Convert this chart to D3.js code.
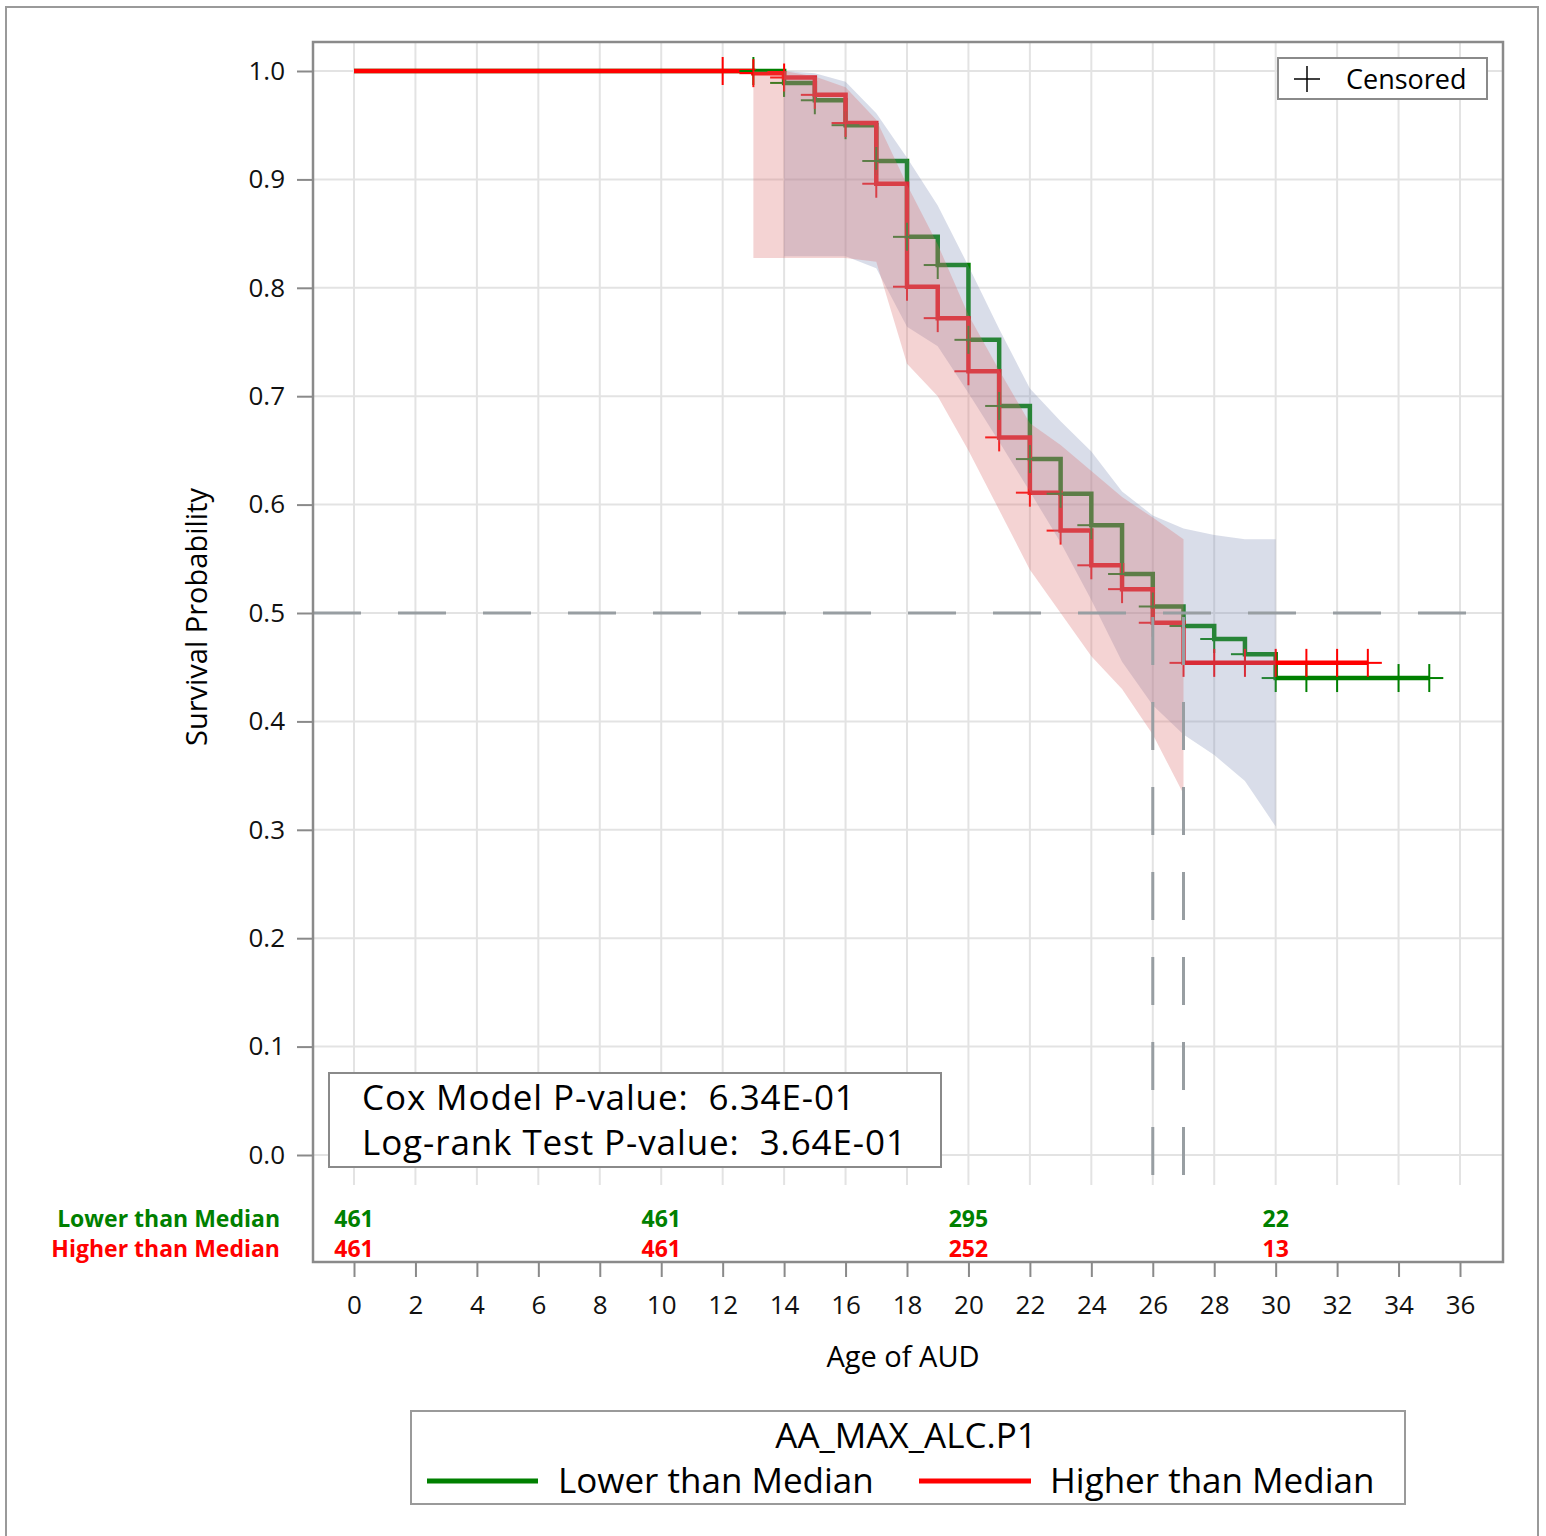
<!DOCTYPE html>
<html>
<head>
<meta charset="utf-8">
<script src="https://cdn.jsdelivr.net/npm/d3@7"></script>
<style>
  body { margin: 0; background: #fff; }
  svg { display: block; font-family: "Open Sans", "Noto Sans", sans-serif; }
  text { white-space: pre; }
</style>
</head>
<body>
<svg id="chart" width="1546" height="1536"></svg>
<script>
// Lower than Median (green) step curve
var lowTimes = [0, 14, 15, 16, 17, 18, 19, 20, 21, 22, 23, 24, 25, 26, 27, 28, 29, 30, 35];
var lowSurv  = [1.0, 0.989, 0.973, 0.950, 0.917, 0.847, 0.821, 0.752, 0.691, 0.642, 0.610, 0.581, 0.536, 0.506, 0.488, 0.476, 0.462, 0.440, 0.440];
// Higher than Median (red) step curve
var highTimes = [0, 13, 14, 15, 16, 17, 18, 19, 20, 21, 22, 23, 24, 25, 26, 27, 33];
var highSurv  = [1.0, 0.998, 0.994, 0.978, 0.952, 0.896, 0.801, 0.772, 0.723, 0.662, 0.611, 0.576, 0.544, 0.522, 0.491, 0.454, 0.454];

// censored times
var lowCens  = [13, 14, 15, 16, 17, 18, 19, 20, 21, 22, 23, 24, 25, 26, 27, 28, 29, 30, 31, 32, 34, 35];
var highCens = [12, 13, 14, 15, 16, 17, 18, 19, 20, 21, 22, 23, 24, 25, 26, 27, 28, 29, 30, 31, 32, 33];

// confidence bands
var lowBandT  = [14, 15, 16, 17, 18, 19, 20, 21, 22, 23, 24, 25, 26, 27, 28, 29, 30];
var lowUpper  = [1.0, 0.998, 0.99, 0.961, 0.92, 0.876, 0.82, 0.762, 0.707, 0.677, 0.649, 0.612, 0.59, 0.578, 0.572, 0.568, 0.568];
var lowLower  = [0.829, 0.829, 0.829, 0.818, 0.764, 0.746, 0.703, 0.658, 0.612, 0.565, 0.512, 0.455, 0.415, 0.388, 0.369, 0.345, 0.303];
var highBandT = [13, 14, 15, 16, 17, 18, 19, 20, 21, 22, 23, 24, 25, 26, 27];
var highUpper = [1.0, 1.0, 0.995, 0.985, 0.955, 0.895, 0.84, 0.775, 0.724, 0.675, 0.655, 0.631, 0.607, 0.588, 0.568];
var highLower = [0.8275, 0.8275, 0.8275, 0.8275, 0.824, 0.73, 0.70, 0.65, 0.595, 0.54, 0.50, 0.46, 0.43, 0.388, 0.333];

// medians
var medians = [26, 27];

// at-risk table
var riskTimes = [0, 10, 20, 30];
var riskLow   = [461, 461, 295, 22];
var riskHigh  = [461, 461, 252, 13];

var xTicks = d3.range(0, 37, 2);
var yTicks = d3.range(0, 1.01, 0.1);

var GREEN = "#008000", RED = "#ff0000";

var svg = d3.select("#chart");

// frame of plot
var L = 313, R = 1503, T = 42, B = 1262, plotBottom = 1185;

var x = d3.scaleLinear().domain([-41 / 30.722, 36 + 43 / 30.722]).range([L, R]);
var y = d3.scaleLinear().domain([0, 1]).range([1155, 71]);

// outer border
svg.append("rect").attr("x", 6).attr("y", 7).attr("width", 1532).attr("height", 1560)
  .attr("fill", "none").attr("stroke", "#9a9a9a").attr("stroke-width", 2);

// grid
svg.append("g").selectAll("line").data(xTicks).enter().append("line")
  .attr("x1", function(d){ return x(d); }).attr("x2", function(d){ return x(d); })
  .attr("y1", T).attr("y2", plotBottom)
  .attr("stroke", "#e3e3e3").attr("stroke-width", 2);
svg.append("g").selectAll("line").data(yTicks).enter().append("line")
  .attr("x1", L).attr("x2", R)
  .attr("y1", function(d){ return y(d); }).attr("y2", function(d){ return y(d); })
  .attr("stroke", "#e3e3e3").attr("stroke-width", 2);

// survival curves
var step = d3.line().curve(d3.curveStepAfter)
  .x(function(d){ return x(d[0]); }).y(function(d){ return y(d[1]); });

function survAt(times, surv, t) {
  var v = surv[0];
  for (var i = 0; i < times.length; i++) if (times[i] <= t) v = surv[i];
  return v;
}

svg.append("path").datum(d3.zip(lowTimes, lowSurv)).attr("d", step)
  .attr("fill", "none").attr("stroke", GREEN).attr("stroke-width", 4.5);
svg.append("path").datum(d3.zip(highTimes, highSurv)).attr("d", step)
  .attr("fill", "none").attr("stroke", RED).attr("stroke-width", 4.5);

// censored marks
function plus(g, times, surv, cens, color) {
  var sel = g.selectAll("g").data(cens).enter().append("g")
    .attr("transform", function(d){ return "translate(" + x(d) + "," + y(survAt(times, surv, d)) + ")"; });
  sel.append("line").attr("x1", -14).attr("x2", 14).attr("y1", 0).attr("y2", 0)
    .attr("stroke", color).attr("stroke-width", 2);
  sel.append("line").attr("x1", 0).attr("x2", 0).attr("y1", -14).attr("y2", 14)
    .attr("stroke", color).attr("stroke-width", 2);
}
plus(svg.append("g"), lowTimes, lowSurv, lowCens, GREEN);
plus(svg.append("g"), highTimes, highSurv, highCens, RED);

// bands
var band = d3.area()
  .x(function(d){ return x(d[0]); })
  .y0(function(d){ return y(d[2]); })
  .y1(function(d){ return y(d[1]); });
svg.append("path").datum(d3.zip(lowBandT, lowUpper, lowLower)).attr("d", band)
  .attr("fill", "rgb(128,142,182)").attr("fill-opacity", 0.3);
svg.append("path").datum(d3.zip(highBandT, highUpper, highLower)).attr("d", band)
  .attr("fill", "rgb(220,110,110)").attr("fill-opacity", 0.3);

// median reference lines
svg.append("line").attr("x1", L).attr("x2", R).attr("y1", y(0.5)).attr("y2", y(0.5))
  .attr("stroke", "#989ea2").attr("stroke-width", 3).attr("stroke-dasharray", "48,37");
svg.append("g").selectAll("line").data(medians).enter().append("line")
  .attr("x1", function(d){ return x(d); }).attr("x2", function(d){ return x(d); })
  .attr("y1", y(0.5) + 4).attr("y2", plotBottom)
  .attr("stroke", "#989ea2").attr("stroke-width", 3).attr("stroke-dasharray", "48,37");

// plot frame
svg.append("rect").attr("x", L).attr("y", T).attr("width", R - L).attr("height", B - T)
  .attr("fill", "none").attr("stroke", "#8a8a8a").attr("stroke-width", 2.5);

// y axis
var yAxis = svg.append("g").attr("transform", "translate(" + L + ",0)")
  .call(d3.axisLeft(y).tickValues(yTicks).tickFormat(d3.format(".1f")).tickSizeOuter(0).tickSize(16).tickPadding(12));
yAxis.select(".domain").remove();
yAxis.selectAll(".tick line").attr("stroke", "#8a8a8a").attr("stroke-width", 2);
yAxis.selectAll(".tick text").attr("font-size", 26).attr("fill", "#111")
  .attr("font-family", "Open Sans, sans-serif");

// x axis
var xAxis = svg.append("g").attr("transform", "translate(0," + B + ")")
  .call(d3.axisBottom(x).tickValues(xTicks).tickSizeOuter(0).tickSize(15).tickPadding(19));
xAxis.select(".domain").remove();
xAxis.selectAll(".tick line").attr("stroke", "#8a8a8a").attr("stroke-width", 2);
xAxis.selectAll(".tick text").attr("font-size", 26).attr("fill", "#111")
  .attr("font-family", "Open Sans, sans-serif");

// axis titles
svg.append("text").attr("transform", "translate(207,617) rotate(-90)")
  .attr("text-anchor", "middle").attr("font-size", 29).attr("fill", "#000")
  .text("Survival Probability");
svg.append("text").attr("x", 903).attr("y", 1367)
  .attr("text-anchor", "middle").attr("font-size", 29).attr("fill", "#000")
  .text("Age of AUD");

// at-risk table
svg.append("text").attr("x", 280).attr("y", 1227).attr("text-anchor", "end")
  .attr("font-size", 23).attr("font-weight", "bold").attr("fill", GREEN).text("Lower than Median");
svg.append("text").attr("x", 280).attr("y", 1257).attr("text-anchor", "end")
  .attr("font-size", 23).attr("font-weight", "bold").attr("fill", RED).text("Higher than Median");
svg.append("g").selectAll("text").data(d3.zip(riskTimes, riskLow)).enter().append("text")
  .attr("x", function(d){ return x(d[0]); }).attr("y", 1227).attr("text-anchor", "middle")
  .attr("font-size", 23).attr("font-weight", "bold").attr("fill", GREEN)
  .text(function(d){ return d[1]; });
svg.append("g").selectAll("text").data(d3.zip(riskTimes, riskHigh)).enter().append("text")
  .attr("x", function(d){ return x(d[0]); }).attr("y", 1257).attr("text-anchor", "middle")
  .attr("font-size", 23).attr("font-weight", "bold").attr("fill", RED)
  .text(function(d){ return d[1]; });

// p-value box
svg.append("rect").attr("x", 329).attr("y", 1073).attr("width", 612).attr("height", 94)
  .attr("fill", "#fff").attr("stroke", "#8a8a8a").attr("stroke-width", 2);
svg.append("text").attr("x", 362).attr("y", 1110).attr("font-size", 35).attr("fill", "#000")
  .attr("letter-spacing", 0.9).text("Cox Model P-value:  6.34E-01");
svg.append("text").attr("x", 362).attr("y", 1155).attr("font-size", 35).attr("fill", "#000")
  .attr("letter-spacing", 0.9).text("Log-rank Test P-value:  3.64E-01");

// censored legend
svg.append("rect").attr("x", 1278).attr("y", 58).attr("width", 209).attr("height", 41)
  .attr("fill", "#fff").attr("stroke", "#8a8a8a").attr("stroke-width", 2);
svg.append("line").attr("x1", 1294).attr("x2", 1320).attr("y1", 79).attr("y2", 79)
  .attr("stroke", "#000").attr("stroke-width", 1.5);
svg.append("line").attr("x1", 1307).attr("x2", 1307).attr("y1", 66).attr("y2", 92)
  .attr("stroke", "#000").attr("stroke-width", 1.5);
svg.append("text").attr("x", 1346).attr("y", 89).attr("font-size", 27).attr("fill", "#000")
  .text("Censored");

// group legend
svg.append("rect").attr("x", 411).attr("y", 1411).attr("width", 994).attr("height", 93)
  .attr("fill", "#fff").attr("stroke", "#9a9a9a").attr("stroke-width", 2);
svg.append("text").attr("x", 906).attr("y", 1448).attr("text-anchor", "middle")
  .attr("font-size", 35).attr("fill", "#000").text("AA_MAX_ALC.P1");
svg.append("line").attr("x1", 427).attr("x2", 538).attr("y1", 1481).attr("y2", 1481)
  .attr("stroke", GREEN).attr("stroke-width", 5);
svg.append("text").attr("x", 558).attr("y", 1493).attr("font-size", 35).attr("fill", "#000")
  .text("Lower than Median");
svg.append("line").attr("x1", 919).attr("x2", 1031).attr("y1", 1481).attr("y2", 1481)
  .attr("stroke", RED).attr("stroke-width", 5);
svg.append("text").attr("x", 1050).attr("y", 1493).attr("font-size", 35).attr("fill", "#000")
  .text("Higher than Median");
</script>
</body>
</html>
